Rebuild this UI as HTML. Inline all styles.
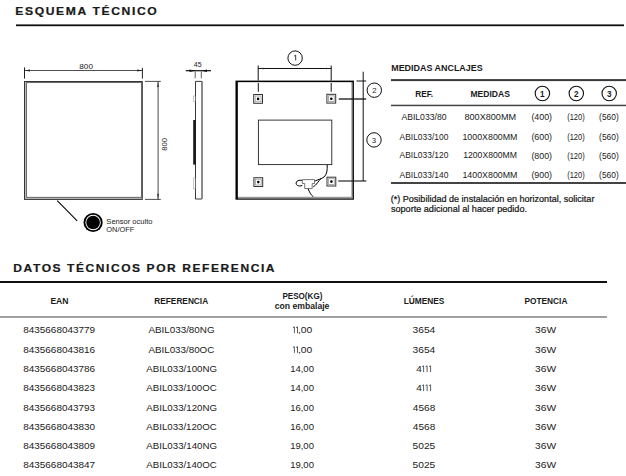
<!DOCTYPE html>
<html><head><meta charset="utf-8">
<style>
html,body{margin:0;padding:0;background:#fff;width:626px;height:476px;overflow:hidden}
svg{display:block}
text{font-family:"Liberation Sans",sans-serif;fill:#1a1a1a}
</style></head><body>
<svg width="626" height="476" viewBox="0 0 626 476">
<rect x="16" y="24.4" width="608" height="1.8" fill="#111"/>
<!-- LEFT DRAWING -->
<g stroke="#222" fill="none">
  <line x1="24.5" y1="67.4" x2="24.5" y2="78.6" stroke-width="1"/>
  <line x1="142.4" y1="67.8" x2="142.4" y2="78.6" stroke-width="1"/>
  <line x1="24.5" y1="70.5" x2="142.7" y2="70.5" stroke-width="0.8"/>
  <line x1="145" y1="81.4" x2="160.8" y2="81.4" stroke-width="0.8"/>
  <line x1="145" y1="199.4" x2="160.8" y2="199.4" stroke-width="0.8"/>
  <line x1="158.1" y1="81.4" x2="158.1" y2="199.4" stroke-width="0.9" stroke="#333"/>
</g>
<path d="M24.5 70.5 L30 69.6 L30 71.4 Z M142.7 70.5 L137.2 69.6 L137.2 71.4 Z" fill="#222"/>
<path d="M158 81.4 L157.2 87 L158.8 87 Z M158 199.4 L157.2 193.8 L158.8 193.8 Z" fill="#222"/>
<text x="0" y="0" font-size="7.6" fill="#3a3a3a" text-anchor="middle" transform="translate(166.9 144.4) rotate(-90)">800</text>
<path d="M24.5 81.5 H142.3 V199.4 H24.5 Z M26.6 82.6 V197.3 H141.4 V82.6 Z" fill="#bdbdbd" fill-rule="evenodd"/>
<rect x="24.5" y="81.5" width="117.8" height="117.9" fill="none" stroke="#333" stroke-width="1"/>
<rect x="26.6" y="82.6" width="114.8" height="114.7" fill="none" stroke="#555" stroke-width="0.85"/>
<line x1="57.2" y1="200.6" x2="77.2" y2="220.9" stroke="#000" stroke-width="1.05"/>
<circle cx="93.1" cy="222.5" r="9.6" fill="#000"/>
<circle cx="93.1" cy="222.5" r="7.7" fill="#fff"/>
<circle cx="93.1" cy="222.5" r="6.8" fill="#000"/>
<!-- SIDE VIEW -->
<line x1="185.8" y1="70.7" x2="211" y2="70.7" stroke="#111" stroke-width="1.2"/>
<path d="M195.2 70.7 L189.5 69.6 L189.5 71.9 Z M201.3 70.7 L207 69.6 L207 71.9 Z" fill="#111"/>
<line x1="195.2" y1="71.4" x2="195.2" y2="78.3" stroke="#333" stroke-width="0.8"/>
<line x1="201.3" y1="71.4" x2="201.3" y2="78.3" stroke="#333" stroke-width="0.8"/>
<path d="M195.5 81.4 V199 H202 V81.4 Z" fill="none" stroke="#222" stroke-width="0.9"/>
<line x1="202.1" y1="81.5" x2="202.1" y2="199" stroke="#888" stroke-width="1.6"/>
<rect x="193.2" y="120" width="2.6" height="44.6" fill="#181818"/>
<rect x="193.4" y="96" width="2" height="5.7" fill="none" stroke="#999" stroke-width="0.5"/>
<rect x="193.4" y="178" width="2" height="10.8" fill="none" stroke="#999" stroke-width="0.5"/>
<!-- FRONT VIEW -->
<rect x="235.5" y="80.6" width="118.4" height="119.1" fill="#000"/>
<rect x="237.9" y="82.3" width="114.7" height="116.1" fill="#b8b8b8"/>
<rect x="237.9" y="196.7" width="114.7" height="1.7" fill="#999"/>
<rect x="237.9" y="82.3" width="113.2" height="114.4" fill="#fff"/>
<rect x="258.4" y="120.1" width="73.4" height="44.5" fill="none" stroke="#222" stroke-width="0.9"/>
<g stroke="#111" stroke-width="1" fill="none">
  <line x1="258.2" y1="65.5" x2="258.2" y2="80.5"/>
  <line x1="331.2" y1="65.5" x2="331.2" y2="80.5"/>
  <line x1="258.3" y1="83" x2="258.3" y2="91.8"/>
  <line x1="331.2" y1="83" x2="331.2" y2="91.8"/>
  <line x1="258.2" y1="68.5" x2="331.2" y2="68.5"/>
  <circle cx="295.1" cy="58.1" r="7.2"/>
  <line x1="356.5" y1="81" x2="366.2" y2="81"/>
  <line x1="338.8" y1="99" x2="366.2" y2="99" stroke-width="1.3"/>
  <line x1="338.2" y1="181" x2="366.3" y2="181" stroke-width="1.1"/>
  <line x1="363.2" y1="71.7" x2="363.2" y2="181"/>
  <circle cx="374.3" cy="90.2" r="7.2"/>
  <circle cx="374" cy="139.9" r="7.2"/>
</g>
<path d="M258.2 68.5 L263.5 67.8 L263.5 69.2 Z M331.2 68.5 L325.9 67.8 L325.9 69.2 Z" fill="#222"/>
<path d="M294.1 56.1 L295.7 55.2 L295.7 60.5" fill="none" stroke="#222" stroke-width="0.9"/>
<text x="374.3" y="92.8" font-size="7.8" text-anchor="middle">2</text>
<text x="374" y="142.5" font-size="7.8" text-anchor="middle">3</text>
<g fill="none">
  <rect x="253.7" y="94.5" width="8.8" height="8.8" stroke="#333" stroke-width="1"/>
  <rect x="255.2" y="96" width="5.8" height="5.8" stroke="#999" stroke-width="0.8"/>
  <circle cx="258.1" cy="98.9" r="1.3" fill="#000"/>
  <rect x="326.9" y="94.3" width="8.8" height="8.8" stroke="#333" stroke-width="1"/>
  <rect x="328.4" y="95.8" width="5.8" height="5.8" stroke="#999" stroke-width="0.8"/>
  <circle cx="331.3" cy="98.7" r="1.3" fill="#000"/>
  <rect x="253.9" y="177.7" width="8.8" height="8.8" stroke="#333" stroke-width="1"/>
  <rect x="255.4" y="179.2" width="5.8" height="5.8" stroke="#999" stroke-width="0.8"/>
  <circle cx="258.3" cy="182.1" r="1.3" fill="#000"/>
  <rect x="327" y="177.2" width="8.8" height="8.8" stroke="#333" stroke-width="1"/>
  <rect x="328.5" y="178.7" width="5.8" height="5.8" stroke="#999" stroke-width="0.8"/>
  <circle cx="331.4" cy="181.6" r="1.3" fill="#000"/>
</g>
<g fill="none" stroke="#000" stroke-width="1">
  <path d="M327.2 164.8 C327.4 170 327 174.5 324 177 C321.5 179 318 179.5 315 181"/>
  <path d="M321 178.3 C318.5 181 316.5 185 313.3 186.8"/>
  <path d="M302.3 180.4 C299 179.8 296.5 180.6 296.1 183 C296 185.5 298.5 186.5 302.3 185.6"/>
  <path d="M302.3 179.6 L314.5 179.6 L314.5 183.5 L312.2 183.5 L312.2 188.6 L304.7 188.6 L304.7 183.5 L302.3 183.5 Z" stroke="#666" stroke-width="0.9" fill="#fff"/>
  <path d="M308.1 188.7 C309.5 192 310.8 195 313.3 196.8"/>
</g>
<!-- ANCLAJES TABLE -->
<rect x="391" y="79.1" width="235" height="2" fill="#3a3a3a"/>
<g fill="none" stroke="#111" stroke-width="1.1">
  <circle cx="542.4" cy="93.5" r="7.2"/>
  <circle cx="576.3" cy="93.5" r="7.2"/>
  <circle cx="609.2" cy="93.5" r="7.2"/>
</g>
<text font-weight="bold" x="542.4" y="97" font-size="8.2" text-anchor="middle">1</text>
<text font-weight="bold" x="576.3" y="97" font-size="8.2" text-anchor="middle">2</text>
<text font-weight="bold" x="609.2" y="97" font-size="8.2" text-anchor="middle">3</text>
<rect x="391" y="104.7" width="235" height="1.5" fill="#444"/>
<rect x="391" y="182" width="235" height="2" fill="#444"/>
<!-- LOWER TABLE -->
<rect x="0" y="281" width="607" height="2" fill="#111"/>
<rect x="0" y="316" width="607" height="2" fill="#a0a0a0"/>

<path d="M292.90 327.70 L294.40 326.80 L294.40 333.10 M296.00 327.70 L297.50 326.80 L297.50 333.10 M292.90 347.50 L294.40 346.60 L294.40 352.90 M296.00 347.50 L297.50 346.60 L297.50 352.90 M422.10 366.70 L423.60 365.80 L423.60 372.10 M425.60 366.70 L427.10 365.80 L427.10 372.10 M429.10 366.70 L430.60 365.80 L430.60 372.10 M422.10 385.70 L423.60 384.80 L423.60 391.10 M425.60 385.70 L427.10 384.80 L427.10 391.10 M429.10 385.70 L430.60 384.80 L430.60 391.10" fill="none" stroke="#333" stroke-width="0.8"/>

<text x="15.25" y="15.2" font-size="11.3" font-weight="bold" textLength="143.12" lengthAdjust="spacingAndGlyphs" stroke="#111" stroke-width="0.2" letter-spacing="1.5" fill="#111">ESQUEMA TÉCNICO</text>
<text x="13.35" y="272.2" font-size="11.5" font-weight="bold" textLength="262.73" lengthAdjust="spacingAndGlyphs" stroke="#111" stroke-width="0.2" letter-spacing="1.5" fill="#111">DATOS TÉCNICOS POR REFERENCIA</text>
<text x="79.25" y="68.7" font-size="7.6" textLength="13.71" lengthAdjust="spacingAndGlyphs" fill="#3a3a3a">800</text>
<text x="193.80" y="66.7" font-size="7.0" textLength="7.81" lengthAdjust="spacingAndGlyphs" fill="#3a3a3a">45</text>
<text x="106.35" y="224.2" font-size="7.6" textLength="46.19" lengthAdjust="spacingAndGlyphs" fill="#2e2e2e">Sensor oculto</text>
<text x="106.35" y="231.8" font-size="7.6" textLength="27.92" lengthAdjust="spacingAndGlyphs" fill="#2e2e2e">ON/OFF</text>
<text x="391.20" y="71.3" font-size="9.4" font-weight="bold" textLength="91.48" lengthAdjust="spacingAndGlyphs" fill="#111">MEDIDAS ANCLAJES</text>
<text x="415.20" y="97.0" font-size="8.4" font-weight="bold" textLength="17.89" lengthAdjust="spacingAndGlyphs" fill="#111">REF.</text>
<text x="470.50" y="96.9" font-size="8.4" font-weight="bold" textLength="39.39" lengthAdjust="spacingAndGlyphs" fill="#111">MEDIDAS</text>
<text x="401.40" y="120.1" font-size="8.3" textLength="45.14" lengthAdjust="spacingAndGlyphs" fill="#2e2e2e">ABIL033/80</text>
<text x="464.45" y="120.1" font-size="8.3" textLength="51.65" lengthAdjust="spacingAndGlyphs" fill="#2e2e2e">800X800MM</text>
<text x="531.40" y="120.19999999999999" font-size="8.3" textLength="20.69" lengthAdjust="spacingAndGlyphs" fill="#2e2e2e">(400)</text>
<text x="567.20" y="120.19999999999999" font-size="8.3" textLength="17.55" lengthAdjust="spacingAndGlyphs" fill="#2e2e2e">(120)</text>
<text x="599.10" y="120.19999999999999" font-size="8.3" textLength="19.64" lengthAdjust="spacingAndGlyphs" fill="#2e2e2e">(560)</text>
<text x="399.60" y="139.5" font-size="8.3" textLength="48.74" lengthAdjust="spacingAndGlyphs" fill="#2e2e2e">ABIL033/100</text>
<text x="462.45" y="139.5" font-size="8.3" textLength="55.00" lengthAdjust="spacingAndGlyphs" fill="#2e2e2e">1000X800MM</text>
<text x="531.40" y="139.6" font-size="8.3" textLength="20.69" lengthAdjust="spacingAndGlyphs" fill="#2e2e2e">(600)</text>
<text x="567.20" y="139.6" font-size="8.3" textLength="17.55" lengthAdjust="spacingAndGlyphs" fill="#2e2e2e">(120)</text>
<text x="599.10" y="139.6" font-size="8.3" textLength="19.64" lengthAdjust="spacingAndGlyphs" fill="#2e2e2e">(560)</text>
<text x="399.60" y="158.4" font-size="8.3" textLength="48.74" lengthAdjust="spacingAndGlyphs" fill="#2e2e2e">ABIL033/120</text>
<text x="463.20" y="158.4" font-size="8.3" textLength="53.72" lengthAdjust="spacingAndGlyphs" fill="#2e2e2e">1200X800MM</text>
<text x="531.40" y="158.5" font-size="8.3" textLength="20.69" lengthAdjust="spacingAndGlyphs" fill="#2e2e2e">(800)</text>
<text x="567.20" y="158.5" font-size="8.3" textLength="17.55" lengthAdjust="spacingAndGlyphs" fill="#2e2e2e">(120)</text>
<text x="599.10" y="158.5" font-size="8.3" textLength="19.64" lengthAdjust="spacingAndGlyphs" fill="#2e2e2e">(560)</text>
<text x="399.60" y="177.8" font-size="8.3" textLength="48.74" lengthAdjust="spacingAndGlyphs" fill="#2e2e2e">ABIL033/140</text>
<text x="462.45" y="177.8" font-size="8.3" textLength="55.00" lengthAdjust="spacingAndGlyphs" fill="#2e2e2e">1400X800MM</text>
<text x="531.40" y="177.9" font-size="8.3" textLength="20.69" lengthAdjust="spacingAndGlyphs" fill="#2e2e2e">(900)</text>
<text x="567.20" y="177.9" font-size="8.3" textLength="17.55" lengthAdjust="spacingAndGlyphs" fill="#2e2e2e">(120)</text>
<text x="599.10" y="177.9" font-size="8.3" textLength="19.64" lengthAdjust="spacingAndGlyphs" fill="#2e2e2e">(560)</text>
<text x="390.70" y="201.9" font-size="8.6" textLength="203.73" lengthAdjust="spacingAndGlyphs" stroke="#111" stroke-width="0.22" fill="#111">(*) Posibilidad de instalación en horizontal, solicitar</text>
<text x="390.95" y="212.0" font-size="8.6" textLength="136.08" lengthAdjust="spacingAndGlyphs" stroke="#111" stroke-width="0.22" fill="#111">soporte adicional al hacer pedido.</text>
<text x="50.40" y="303.8" font-size="8.6" font-weight="bold" textLength="18.16" lengthAdjust="spacingAndGlyphs" fill="#111">EAN</text>
<text x="154.30" y="304.0" font-size="8.6" font-weight="bold" textLength="53.85" lengthAdjust="spacingAndGlyphs" fill="#111">REFERENCIA</text>
<text x="282.40" y="299.0" font-size="8.2" font-weight="bold" textLength="39.99" lengthAdjust="spacingAndGlyphs" fill="#111">PESO(KG)</text>
<text x="274.75" y="308.5" font-size="8.2" font-weight="bold" textLength="54.66" lengthAdjust="spacingAndGlyphs" fill="#111">con embalaje</text>
<text x="403.70" y="303.8" font-size="8.6" font-weight="bold" textLength="40.76" lengthAdjust="spacingAndGlyphs" fill="#111">LÚMENES</text>
<text x="524.50" y="303.8" font-size="8.6" font-weight="bold" textLength="42.88" lengthAdjust="spacingAndGlyphs" fill="#111">POTENCIA</text>
<text x="23.20" y="333.1" font-size="9.5" textLength="71.97" lengthAdjust="spacingAndGlyphs" fill="#2e2e2e">8435668043779</text>
<text x="148.40" y="333.1" font-size="9.5" textLength="66.18" lengthAdjust="spacingAndGlyphs" fill="#2e2e2e">ABIL033/80NG</text>
<text x="298.00" y="333.1" font-size="9.5" textLength="14.30" lengthAdjust="spacingAndGlyphs" fill="#2e2e2e">,00</text>
<text x="412.60" y="333.1" font-size="9.5" textLength="22.69" lengthAdjust="spacingAndGlyphs" fill="#2e2e2e">3654</text>
<text x="535.00" y="333.1" font-size="9.5" textLength="21.07" lengthAdjust="spacingAndGlyphs" fill="#2e2e2e">36W</text>
<text x="23.20" y="352.9" font-size="9.5" textLength="71.97" lengthAdjust="spacingAndGlyphs" fill="#2e2e2e">8435668043816</text>
<text x="148.40" y="352.9" font-size="9.5" textLength="65.92" lengthAdjust="spacingAndGlyphs" fill="#2e2e2e">ABIL033/80OC</text>
<text x="298.00" y="352.9" font-size="9.5" textLength="14.30" lengthAdjust="spacingAndGlyphs" fill="#2e2e2e">,00</text>
<text x="412.60" y="352.9" font-size="9.5" textLength="22.69" lengthAdjust="spacingAndGlyphs" fill="#2e2e2e">3654</text>
<text x="535.00" y="352.9" font-size="9.5" textLength="21.07" lengthAdjust="spacingAndGlyphs" fill="#2e2e2e">36W</text>
<text x="23.20" y="372.1" font-size="9.5" textLength="71.97" lengthAdjust="spacingAndGlyphs" fill="#2e2e2e">8435668043786</text>
<text x="146.30" y="372.1" font-size="9.5" textLength="70.70" lengthAdjust="spacingAndGlyphs" fill="#2e2e2e">ABIL033/100NG</text>
<text x="290.15" y="372.1" font-size="9.5" textLength="23.78" lengthAdjust="spacingAndGlyphs" fill="#2e2e2e">14,00</text>
<text x="416.25" y="372.1" font-size="9.5" textLength="5.58" lengthAdjust="spacingAndGlyphs" fill="#2e2e2e">4</text>
<text x="535.00" y="372.1" font-size="9.5" textLength="21.07" lengthAdjust="spacingAndGlyphs" fill="#2e2e2e">36W</text>
<text x="23.20" y="391.1" font-size="9.5" textLength="71.97" lengthAdjust="spacingAndGlyphs" fill="#2e2e2e">8435668043823</text>
<text x="146.30" y="391.1" font-size="9.5" textLength="70.44" lengthAdjust="spacingAndGlyphs" fill="#2e2e2e">ABIL033/100OC</text>
<text x="290.15" y="391.1" font-size="9.5" textLength="23.78" lengthAdjust="spacingAndGlyphs" fill="#2e2e2e">14,00</text>
<text x="416.25" y="391.1" font-size="9.5" textLength="5.58" lengthAdjust="spacingAndGlyphs" fill="#2e2e2e">4</text>
<text x="535.00" y="391.1" font-size="9.5" textLength="21.07" lengthAdjust="spacingAndGlyphs" fill="#2e2e2e">36W</text>
<text x="23.20" y="410.8" font-size="9.5" textLength="71.97" lengthAdjust="spacingAndGlyphs" fill="#2e2e2e">8435668043793</text>
<text x="146.30" y="410.8" font-size="9.5" textLength="70.70" lengthAdjust="spacingAndGlyphs" fill="#2e2e2e">ABIL033/120NG</text>
<text x="290.15" y="410.8" font-size="9.5" textLength="23.78" lengthAdjust="spacingAndGlyphs" fill="#2e2e2e">16,00</text>
<text x="412.85" y="410.8" font-size="9.5" textLength="22.42" lengthAdjust="spacingAndGlyphs" fill="#2e2e2e">4568</text>
<text x="535.00" y="410.8" font-size="9.5" textLength="21.07" lengthAdjust="spacingAndGlyphs" fill="#2e2e2e">36W</text>
<text x="23.20" y="430.1" font-size="9.5" textLength="71.97" lengthAdjust="spacingAndGlyphs" fill="#2e2e2e">8435668043830</text>
<text x="146.30" y="430.1" font-size="9.5" textLength="70.44" lengthAdjust="spacingAndGlyphs" fill="#2e2e2e">ABIL033/120OC</text>
<text x="290.15" y="430.1" font-size="9.5" textLength="23.78" lengthAdjust="spacingAndGlyphs" fill="#2e2e2e">16,00</text>
<text x="412.85" y="430.1" font-size="9.5" textLength="22.42" lengthAdjust="spacingAndGlyphs" fill="#2e2e2e">4568</text>
<text x="535.00" y="430.1" font-size="9.5" textLength="21.07" lengthAdjust="spacingAndGlyphs" fill="#2e2e2e">36W</text>
<text x="23.20" y="449.1" font-size="9.5" textLength="71.97" lengthAdjust="spacingAndGlyphs" fill="#2e2e2e">8435668043809</text>
<text x="146.30" y="449.1" font-size="9.5" textLength="70.70" lengthAdjust="spacingAndGlyphs" fill="#2e2e2e">ABIL033/140NG</text>
<text x="290.15" y="449.1" font-size="9.5" textLength="23.78" lengthAdjust="spacingAndGlyphs" fill="#2e2e2e">19,00</text>
<text x="412.60" y="449.1" font-size="9.5" textLength="22.69" lengthAdjust="spacingAndGlyphs" fill="#2e2e2e">5025</text>
<text x="535.00" y="449.1" font-size="9.5" textLength="21.07" lengthAdjust="spacingAndGlyphs" fill="#2e2e2e">36W</text>
<text x="23.20" y="467.9" font-size="9.5" textLength="71.97" lengthAdjust="spacingAndGlyphs" fill="#2e2e2e">8435668043847</text>
<text x="146.30" y="467.9" font-size="9.5" textLength="70.44" lengthAdjust="spacingAndGlyphs" fill="#2e2e2e">ABIL033/140OC</text>
<text x="290.15" y="467.9" font-size="9.5" textLength="23.78" lengthAdjust="spacingAndGlyphs" fill="#2e2e2e">19,00</text>
<text x="412.60" y="467.9" font-size="9.5" textLength="22.69" lengthAdjust="spacingAndGlyphs" fill="#2e2e2e">5025</text>
<text x="535.00" y="467.9" font-size="9.5" textLength="21.07" lengthAdjust="spacingAndGlyphs" fill="#2e2e2e">36W</text>
</svg>
</body></html>
